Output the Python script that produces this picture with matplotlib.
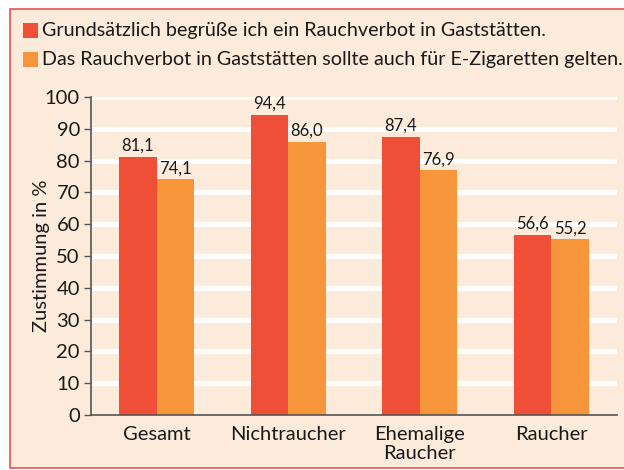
import matplotlib
matplotlib.use("Agg")
import matplotlib.pyplot as plt
from matplotlib.patches import Rectangle
import numpy as np

categories = ["Gesamt", "Nichtraucher", "Ehemalige\nRaucher", "Raucher"]
series_names = ["Grundsätzlich begrüße ich ein Rauchverbot in Gaststätten.",
                "Das Rauchverbot in Gaststätten sollte auch für E-Zigaretten gelten."]
values_a = [81.1, 94.4, 87.4, 56.6]
values_b = [74.1, 86.0, 76.9, 55.2]
yticks = [0, 10, 20, 30, 40, 50, 60, 70, 80, 90, 100]

BG = "#FCEBDB"
RED = "#EF4E37"
ORANGE = "#F7953B"
BORDER = "#E9534C"
TXT = "#1a1a1a"

plt.rcParams['font.family'] = ['Lato', 'DejaVu Sans']

fig = plt.figure(figsize=(6.24, 4.70), dpi=100)
fig.patch.set_facecolor("white")
fig.patches.append(Rectangle((10/624, 2/470), 1.0, 1 - 11/470, transform=fig.transFigure,
                             facecolor=BG, edgecolor=BORDER, linewidth=1.2, zorder=-10))

ax = fig.add_axes([91/624, 1 - 415/470, (617 - 91)/624, (415 - 97)/470])
ax.set_zorder(1)
ax.patch.set_alpha(0)

x = np.arange(len(categories))
w = 0.285
ba = ax.bar(x - w/2, values_a, w, color=RED, zorder=3)
bb = ax.bar(x + w/2, values_b, w, color=ORANGE, zorder=3)

def fmt(v):
    return f"{v:.1f}".replace(".", ",")

for bars, vals in ((ba, values_a), (bb, values_b)):
    for b, v in zip(bars, vals):
        ax.text(b.get_x() + b.get_width()/2, v + 1.0, fmt(v), ha="center", va="bottom",
                fontsize=12, color=TXT, zorder=4)

ax.set_xlim(-0.5, 3.5)
ax.set_ylim(0, 100)
ax.set_yticks(yticks)
ax.set_yticklabels([str(t) for t in yticks], fontsize=14.5, color=TXT)
ax.set_xticks(x)
ax.set_xticklabels(categories, fontsize=14.5, color=TXT, linespacing=1.15)
ax.tick_params(axis="x", length=0, pad=8)
ax.tick_params(axis="y", length=5, width=1, color="#555555", pad=3)
for t in yticks[1:]:
    ax.axhline(t, color="white", linewidth=3.5, zorder=1)
for s in ("top", "right"):
    ax.spines[s].set_visible(False)
for s in ("left", "bottom"):
    ax.spines[s].set_color("#555555")
    ax.spines[s].set_linewidth(1.2)
    ax.spines[s].set_zorder(5)
ax.set_ylabel("Zustimmung in %", fontsize=14.5, color=TXT, labelpad=-4)

# legend
for i, (name, col) in enumerate(zip(series_names, [RED, ORANGE])):
    yc = 1 - (30.5 + 29*i)/470
    fig.patches.append(Rectangle((23/624, yc - 7.5/470), 15/624, 15/470, transform=fig.transFigure,
                                 facecolor=col, edgecolor="none", zorder=2))
    fig.text(42/624, yc, name, fontsize=14.2, color=TXT, va="center", ha="left")

fig.savefig("out.png", dpi=100, facecolor=fig.get_facecolor())
